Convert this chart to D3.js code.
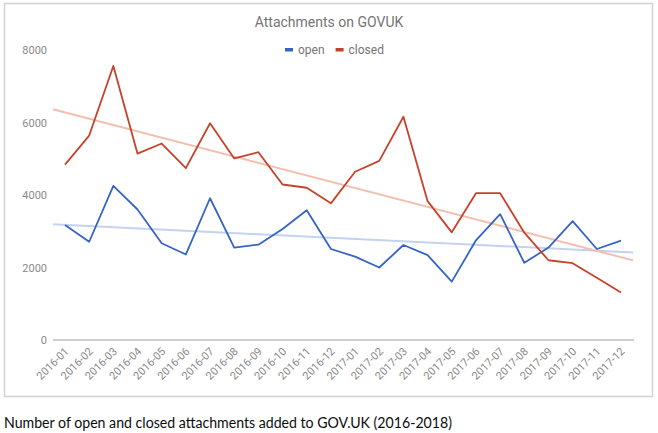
<!DOCTYPE html>
<html lang="en">
<head>
<meta charset="UTF-8" />
<title>Attachments on GOVUK</title>
<script src="https://d3js.org/d3.v7.min.js"></script>
<style>
    body { margin: 0; background: #fff; }
    .axis text { font-family: Roboto, sans-serif; font-size: 11px; fill: #8a8a8a; }
    .axis path, .axis line { display: none; }
</style>
</head>
<body>
<script>
    var months = ["2016-01", "2016-02", "2016-03", "2016-04", "2016-05", "2016-06",
        "2016-07", "2016-08", "2016-09", "2016-10", "2016-11", "2016-12",
        "2017-01", "2017-02", "2017-03", "2017-04", "2017-05", "2017-06",
        "2017-07", "2017-08", "2017-09", "2017-10", "2017-11", "2017-12"];
    var openCounts = [3170, 2710, 4250, 3600, 2670, 2360, 3910, 2550, 2630, 3060, 3580, 2510,
        2300, 2000, 2620, 2340, 1610, 2750, 3470, 2130, 2550, 3280, 2510, 2740];
    var closedCounts = [4840, 5640, 7560, 5140, 5420, 4740, 5980, 5010, 5180, 4290, 4200, 3770,
        4640, 4940, 6160, 3830, 2970, 4050, 4050, 2960, 2200, 2120, 1720, 1310];
    var yTicks = [0, 2000, 4000, 6000, 8000];
    var seriesNames = ["open", "closed"];

    var colors = { open: "#3664c6", closed: "#c6432b" };
    var trendColors = { open: "#c3d2f1", closed: "#f2bfae" };

    var w = 658, h = 433;
    var svg = d3.select("body").append("svg").attr("width", w).attr("height", h);

    // card frame
    svg.append("rect")
        .attr("x", 4.5).attr("y", 3.5).attr("width", 648).attr("height", 393)
        .attr("fill", "#fff").attr("stroke", "#d2d2d2").attr("stroke-width", 1.5);

    var xScale = d3.scalePoint().domain(months).range([65, 621]);
    var xIdx = d3.scaleLinear().domain([0, months.length - 1]).range([65, 621]);
    var yScale = d3.scaleLinear().domain([0, 8000]).range([340, 50]);

    // title + legend
    svg.append("text")
        .attr("x", 329).attr("y", 27)
        .attr("text-anchor", "middle")
        .style("font-family", "Roboto, sans-serif").style("font-size", "14px")
        .attr("fill", "#757575")
        .text("Attachments on GOVUK");

    var legend = svg.append("g").attr("transform", "translate(285,50)");
    var lx = 0;
    seriesNames.forEach(function (name) {
        legend.append("rect").attr("x", lx).attr("y", -2).attr("width", 8).attr("height", 3.5)
            .attr("fill", colors[name]);
        var t = legend.append("text").attr("x", lx + 13).attr("y", 4)
            .style("font-family", "Roboto, sans-serif").style("font-size", "12px")
            .attr("fill", "#757575").text(name);
        lx += 13 + t.node().getComputedTextLength() + 11;
    });

    // y axis labels
    svg.append("g")
        .attr("class", "axis")
        .attr("transform", "translate(52,0)")
        .call(d3.axisLeft(yScale).tickValues(yTicks).tickSize(0).tickPadding(5).tickFormat(d3.format("d")));

    // baseline
    svg.append("line")
        .attr("x1", 53).attr("x2", 634)
        .attr("y1", yScale(0)).attr("y2", yScale(0))
        .attr("stroke", "#9e9e9e").attr("stroke-width", 1.2);

    // x axis, rotated labels
    var xAxis = svg.append("g")
        .attr("class", "axis")
        .attr("transform", "translate(0," + yScale(0) + ")")
        .call(d3.axisBottom(xScale).tickSize(0).tickPadding(0));
    xAxis.selectAll("text")
        .attr("text-anchor", "end")
        .attr("dy", null)
        .attr("y", 0)
        .attr("transform", "translate(4,12) rotate(-45)");

    // least squares trendline over index positions
    function trend(values) {
        var n = values.length;
        var mx = d3.mean(values, function (v, i) { return i; });
        var my = d3.mean(values);
        var sxy = d3.sum(values, function (v, i) { return (i - mx) * (v - my); });
        var sxx = d3.sum(values, function (v, i) { return (i - mx) * (i - mx); });
        var b = sxy / sxx, a = my - b * mx;
        return [-0.5, n - 0.5].map(function (i) { return [i, a + b * i]; });
    }

    var data = { open: openCounts, closed: closedCounts };

    seriesNames.forEach(function (name) {
        svg.append("path")
            .datum(trend(data[name]))
            .attr("fill", "none")
            .attr("stroke", trendColors[name])
            .attr("stroke-width", 2)
            .attr("d", d3.line()
                .x(function (d) { return xIdx(d[0]); })
                .y(function (d) { return yScale(d[1]); }));
    });

    seriesNames.forEach(function (name) {
        svg.append("path")
            .datum(data[name])
            .attr("fill", "none")
            .attr("stroke", colors[name])
            .attr("stroke-width", 1.8)
            .attr("stroke-linejoin", "round")
            .attr("d", d3.line()
                .x(function (d, i) { return xScale(months[i]); })
                .y(function (d) { return yScale(d); }));
    });

    // caption below card, squeezed a little to the reference width
    svg.append("text")
        .attr("x", 4).attr("y", 428)
        .attr("textLength", 448).attr("lengthAdjust", "spacingAndGlyphs")
        .style("font-family", "Lato, sans-serif").style("font-size", "15.5px")
        .attr("fill", "#0b0c0c")
        .text("Number of open and closed attachments added to GOV.UK (2016-2018)");
</script>
</body>
</html>
